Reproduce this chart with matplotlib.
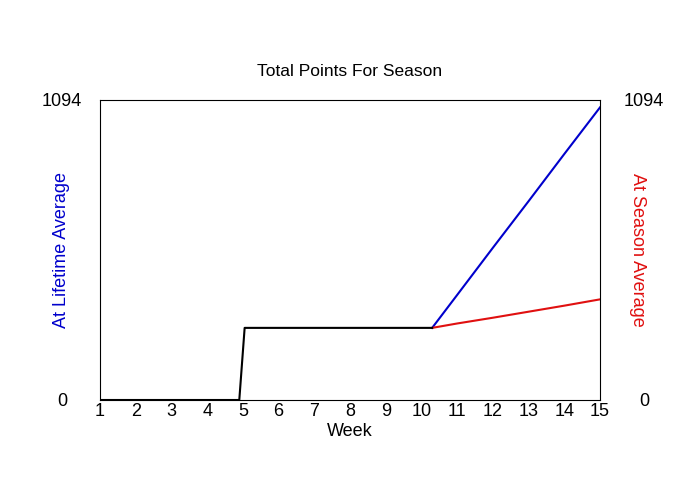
import matplotlib
matplotlib.use("Agg")
import matplotlib.pyplot as plt

plt.rcParams.update({
    "font.family": ["Liberation Sans", "DejaVu Sans"],
})

# Data
weeks_played = [1, 4.9, 5.05, 10.3]
points_played = [0, 0, 263, 263]

weeks_proj = [10.3, 11, 12, 13, 14, 15]
proj_lifetime = [263, 383, 555, 725, 897, 1067]
proj_season = [263, 279, 300, 322, 344, 367]

week_ticks = list(range(1, 16))
y_max = 1094

fig = plt.figure(figsize=(7, 5), dpi=100)
ax = fig.add_axes([100 / 700, 0.2, 500 / 700, 0.6])

ax.plot(weeks_proj, proj_lifetime, color="#0000cc", linewidth=1.5)
ax.plot(weeks_proj, proj_season, color="#e01010", linewidth=1.5)
ax.plot(weeks_played, points_played, color="black", linewidth=1.5)

ax.set_xlim(1, 15)
ax.set_ylim(0, y_max)
ax.set_xticks(week_ticks)
ax.tick_params(axis="x", length=0, pad=2, labelsize=13)
ax.set_yticks([])
for s in ax.spines.values():
    s.set_linewidth(0.8)

# y end labels, centred, on both sides
for yv in (0, y_max):
    ax.text(-0.076, yv, str(yv), transform=ax.get_yaxis_transform(),
            ha="center", va="center_baseline", fontsize=13)
    ax.text(1.088, yv, str(yv), transform=ax.get_yaxis_transform(),
            ha="center", va="center_baseline", fontsize=13)

ax.set_xlabel("Week", fontsize=13, labelpad=2)
ax.text(-0.077, 0.5, "At Lifetime Average", transform=ax.transAxes,
        rotation=90, ha="center", va="center", fontsize=13, color="#0000cc")
ax.text(1.075, 0.5, "At Season Average", transform=ax.transAxes,
        rotation=-90, ha="center", va="center", fontsize=13, color="#e01010")
ax.set_title("Total Points For Season", fontsize=12.5, pad=17)

fig.savefig("out.png", dpi=100)
